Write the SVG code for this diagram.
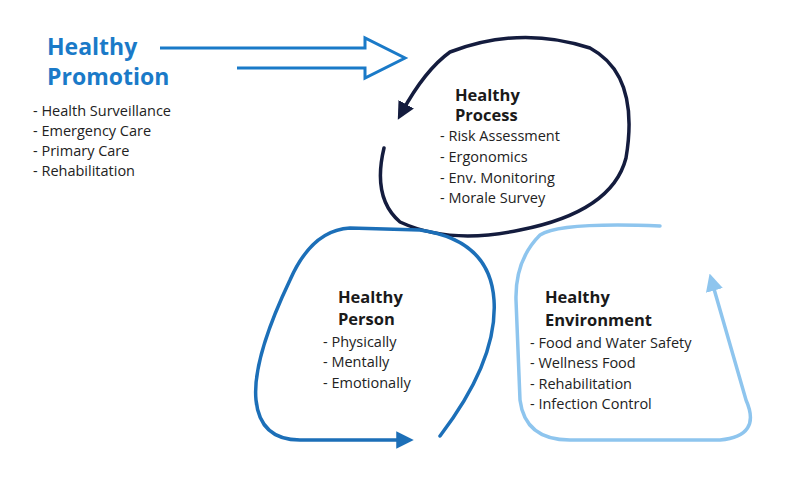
<svg xmlns="http://www.w3.org/2000/svg" width="800" height="500" viewBox="0 0 800 500">
<style>
.t{font-family:"Open Sans","Liberation Sans",sans-serif;font-weight:bold;font-size:16.5px;fill:#1a1a1a}
.b{font-family:"Open Sans","Liberation Sans",sans-serif;font-size:14.5px;fill:#222}
.p{font-family:"Open Sans","Liberation Sans",sans-serif;font-weight:bold;font-size:23px;fill:#1a7ac8}
.c{fill:none;stroke-width:3.5;stroke-linecap:round}
</style>
<defs>
<marker id="m1" viewBox="0 0 10 10" refX="5" refY="5" markerWidth="5" markerHeight="5" orient="auto"><path d="M0,0 L10,5 L0,10 z" fill="#141c3e"/></marker>
<marker id="m2" viewBox="0 0 10 10" refX="5" refY="5" markerWidth="5" markerHeight="5" orient="auto"><path d="M0,0 L10,5 L0,10 z" fill="#1c6fb8"/></marker>
<marker id="m3" viewBox="0 0 10 10" refX="5" refY="5" markerWidth="5" markerHeight="5" orient="auto"><path d="M0,0 L10,5 L0,10 z" fill="#8ec5ee"/></marker>
</defs>
<rect width="800" height="500" fill="#fff"/>
<g id="connectors">
<path class="c" stroke="#141c3e" marker-end="url(#m1)" d="M384 148 Q372 198 400 222 Q450 245 520 230 Q612 212 626 158 Q640 75 590 48 Q520 25 450 52 Q425 70 402 112"/>
<path class="c" stroke="#1c6fb8" marker-end="url(#m2)" d="M440 436 Q498 360 494 300 Q490 240 420 230 L350 228 Q312 230 290 280 Q252 360 256 400 Q260 440 300 440 L405 440"/>
<path class="c" stroke="#8ec5ee" marker-end="url(#m3)" d="M660 226 Q560 222 540 235 Q515 260 516 300 L520 400 Q525 440 570 440 L720 440 Q762 436 746 400 L712 282"/>
<path fill="none" stroke="#1a7ac8" stroke-width="3" stroke-linejoin="miter" d="M160 48 L365 48 L365 38 L405 58 L365 78 L365 68 L237 68"/>
</g>
<g id="promotion">
<text class="p" x="47" y="55">Healthy</text>
<text class="p" x="47" y="85">Promotion</text>
<text class="b" x="33" y="116">- Health Surveillance</text>
<text class="b" x="33" y="136">- Emergency Care</text>
<text class="b" x="33" y="156">- Primary Care</text>
<text class="b" x="33" y="176">- Rehabilitation</text>
</g>
<g id="process">
<text class="t" x="455" y="101">Healthy</text>
<text class="t" x="455" y="121">Process</text>
<text class="b" x="440" y="141">- Risk Assessment</text>
<text class="b" x="440" y="162">- Ergonomics</text>
<text class="b" x="440" y="183">- Env. Monitoring</text>
<text class="b" x="440" y="203">- Morale Survey</text>
</g>
<g id="person">
<text class="t" x="338" y="303">Healthy</text>
<text class="t" x="338" y="325">Person</text>
<text class="b" x="323" y="347">- Physically</text>
<text class="b" x="323" y="367">- Mentally</text>
<text class="b" x="323" y="388">- Emotionally</text>
</g>
<g id="environment">
<text class="t" x="545" y="303">Healthy</text>
<text class="t" x="545" y="326">Environment</text>
<text class="b" x="530" y="348">- Food and Water Safety</text>
<text class="b" x="530" y="368">- Wellness Food</text>
<text class="b" x="530" y="389">- Rehabilitation</text>
<text class="b" x="530" y="409">- Infection Control</text>
</g>
</svg>
